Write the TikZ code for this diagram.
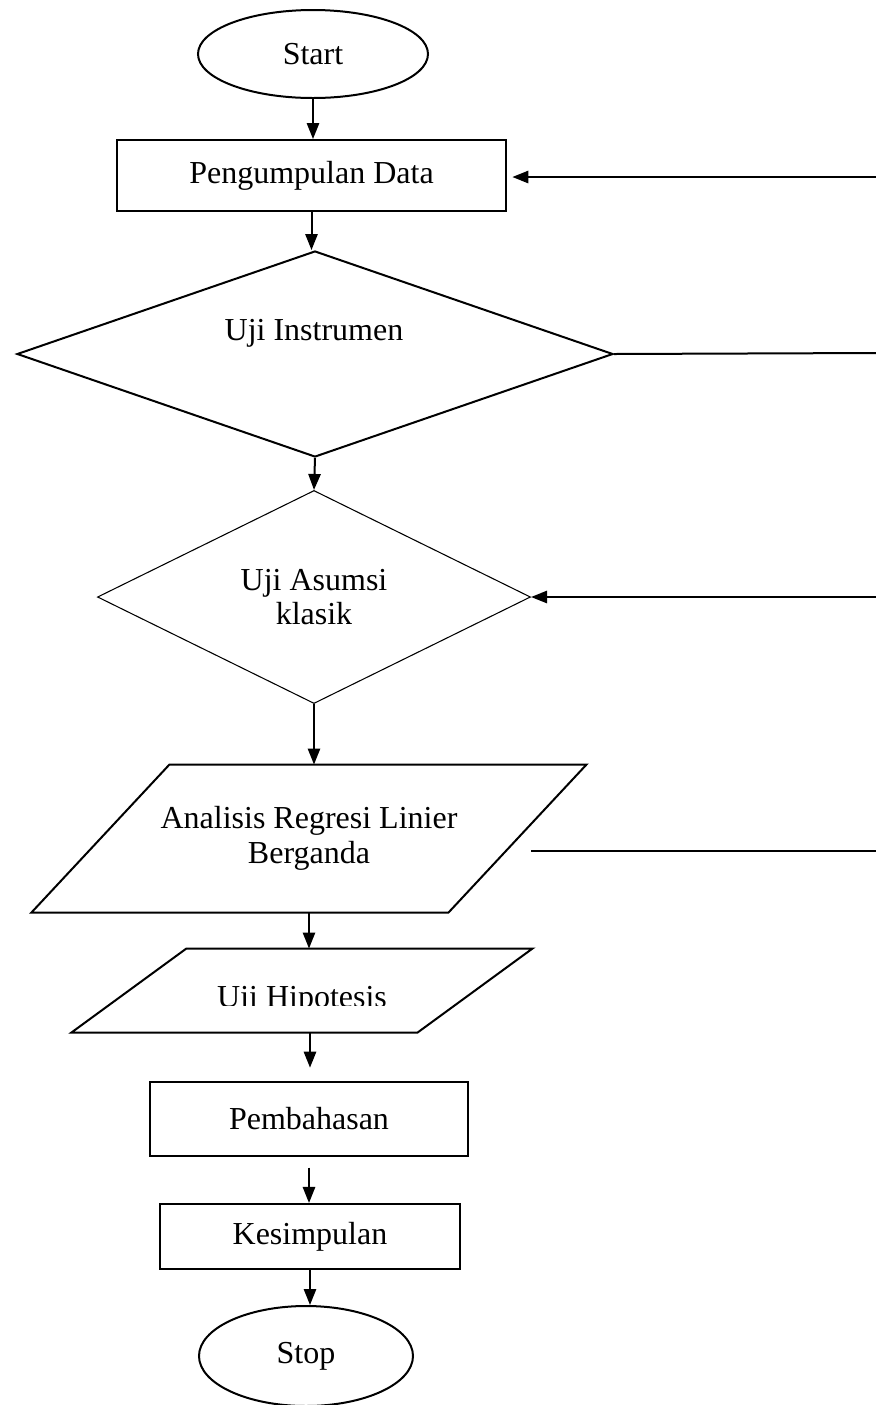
\documentclass[tikz,border=0pt]{standalone}
\usepackage{fontspec}
\setmainfont{Liberation Serif}
\usetikzlibrary{arrows.meta,shapes.geometric}

\begin{document}
\begin{tikzpicture}[x=0.375pt,y=-0.375pt,
    font=\fontsize{12pt}{13pt}\selectfont,
    term/.style={ellipse,draw,line width=0.75pt,inner sep=0pt},
    box/.style={rectangle,draw,line width=0.75pt,inner sep=0pt},
    dec/.style={diamond,draw,aspect=2,inner sep=0pt},
    io/.style={rectangle,inner sep=0pt,align=center},
    edge/.style={line width=0.75pt},
    arr/.style={-{Triangle[length=6pt,width=4.6pt]},line width=0.75pt}]
  \useasboundingbox (0,0) rectangle (876,1405);
  % main column
  \node[term,minimum width=86.25pt,minimum height=33pt] (start) at (313,54) {Start};
  \node[box,minimum width=145.9pt,minimum height=26.6pt] (pd) at (311.5,175.5) {Pengumpulan Data};
  \node[dec,line width=0.75pt,minimum width=223.5pt,minimum height=77.25pt] (ui) at (315,354) {};
  \node (uitext) at (314,333) {Uji Instrumen};
  \node[dec,thin,align=center,minimum width=162.4pt,minimum height=79.9pt] (ua) at (314,597) {Uji Asumsi\\klasik};
  \node[io,minimum width=207.75pt,minimum height=55.1pt] (ar) at (309,838.5) {Analisis Regresi Linier\\Berganda};
  \draw[edge] ([xshift=51.75pt]ar.north west) -- (ar.north east)
    -- ([xshift=-51.75pt]ar.south east) -- (ar.south west) -- cycle;
  \node[io,minimum width=172.5pt,minimum height=31.1pt] (uh) at (302,990.5) {};
  \draw[edge] ([xshift=43.1pt]uh.north west) -- (uh.north east)
    -- ([xshift=-43.1pt]uh.south east) -- (uh.south west) -- cycle;
  \begin{scope}
    \clip (150,960) rectangle (460,1005);
    \node[anchor=base] (uhtext) at (302,1007) {Uji Hipotesis};
  \end{scope}
  \node[box,minimum width=119.25pt,minimum height=27.75pt] (pb) at (309,1119) {Pembahasan};
  \node[box,minimum width=112.5pt,minimum height=24.4pt] (ks) at (310,1236.5) {Kesimpulan};
  \node[term,minimum width=80.25pt,minimum height=37.5pt] (stop) at (306,1356) {Stop};
  % arrows down
  \draw[arr] (start.south) -- (start.south |- pd.north);
  \draw[arr] (pd.south) -- (pd.south |- ui.north);
  \draw[arr] (ui.south) -- (ua.north);
  \draw[arr] (ua.south) -- (ua.south |- ar.north);
  \draw[arr] (ar.south) -- (ar.south |- uh.north);
  \draw[arr,shorten >=5pt] ([xshift=3pt]uh.south) -- ([xshift=3pt]uh.south |- pb.north);
  \draw[arr,shorten <=4pt] (pb.south) -- (pb.south |- ks.north);
  \draw[arr] (ks.south) -- (ks.south |- stop.north);
  % lines on the right
  \coordinate (r1) at (876,177);
  \coordinate (r2) at (876,353);
  \coordinate (r3) at (876,597);
  \coordinate (r4a) at (531,851);
  \coordinate (r4b) at (876,851);
  \draw[arr,shorten >=2pt] (r1) -- (pd.east |- r1);
  \draw[edge] (ui.east) -- (r2);
  \draw[arr] (r3) -- (ua.east);
  \draw[edge] (r4a) -- (r4b);
\end{tikzpicture}
\end{document}
